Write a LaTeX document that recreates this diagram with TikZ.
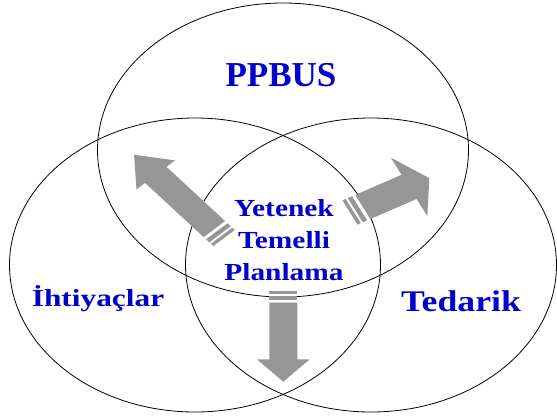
\documentclass[tikz,border=0pt]{standalone}
\usepackage{fontspec}
\setmainfont{Liberation Serif}
\usetikzlibrary{shapes.geometric}
\definecolor{labelblue}{RGB}{0,0,204}
\definecolor{arrowgray}{RGB}{150,150,150}
\tikzstyle{set}=[shape=ellipse, draw=black, line width=0.8pt, inner sep=0, minimum width=371pt, minimum height=294pt]
\tikzstyle{lbl}=[text=labelblue, inner sep=0, anchor=base, font=\bfseries]
\newcommand{\wide}[2]{\scalebox{#1}[1]{#2}}
% striped arrow: tail, angle, length, head length, head half width, body half width
\newcommand{\stripearrow}[6]{%
  \begin{scope}[shift={#1}, xscale=1.2, rotate=#2]
    \fill[arrowgray] (0,-#6) rectangle (3,#6);
    \fill[arrowgray] (5,-#6) rectangle (9,#6);
    \fill[arrowgray] (12,-#6) -- ({#3-#4},-#6) -- ({#3-#4},-#5) -- (#3,0)
      -- ({#3-#4},#5) -- ({#3-#4},#6) -- (12,#6) -- cycle;
  \end{scope}}

\begin{document}
\begin{tikzpicture}[x=1pt, y=-1pt]
\useasboundingbox (0,0) rectangle (557,418);
\node[set] (ppbus) at (283,150) {};
\node[set] (ihtiyac) at (195,265) {};
\node[set] (tedarik) at (371,265) {};
\stripearrow{(224,238)}{132}{112}{27}{21.6}{12}
\stripearrow{(283.3,290.7)}{-90}{91}{22.4}{22}{11.7}
\stripearrow{(350,212.5)}{27.5}{74.5}{19}{33}{13.6}
\node[lbl] (ppbuslbl) at (281,86) {\fontsize{35}{40}\selectfont PPBUS};
\node[lbl] (ihtiyaclbl) at (98,306) {\fontsize{24.5}{30}\selectfont\wide{1.28}{İhtiyaçlar}};
\node[lbl] (tedariklbl) at (461,311.7) {\fontsize{30}{36}\selectfont\wide{1.19}{Tedarik}};
\node[lbl] (yetenek) at (284,216) {\fontsize{24.5}{30}\selectfont\wide{1.2}{Yetenek}};
\node[lbl] (temelli) at (284,248) {\fontsize{24.5}{30}\selectfont\wide{1.2}{Temelli}};
\node[lbl] (planlama) at (284,280) {\fontsize{24.5}{30}\selectfont\wide{1.2}{Planlama}};
\end{tikzpicture}
\end{document}
